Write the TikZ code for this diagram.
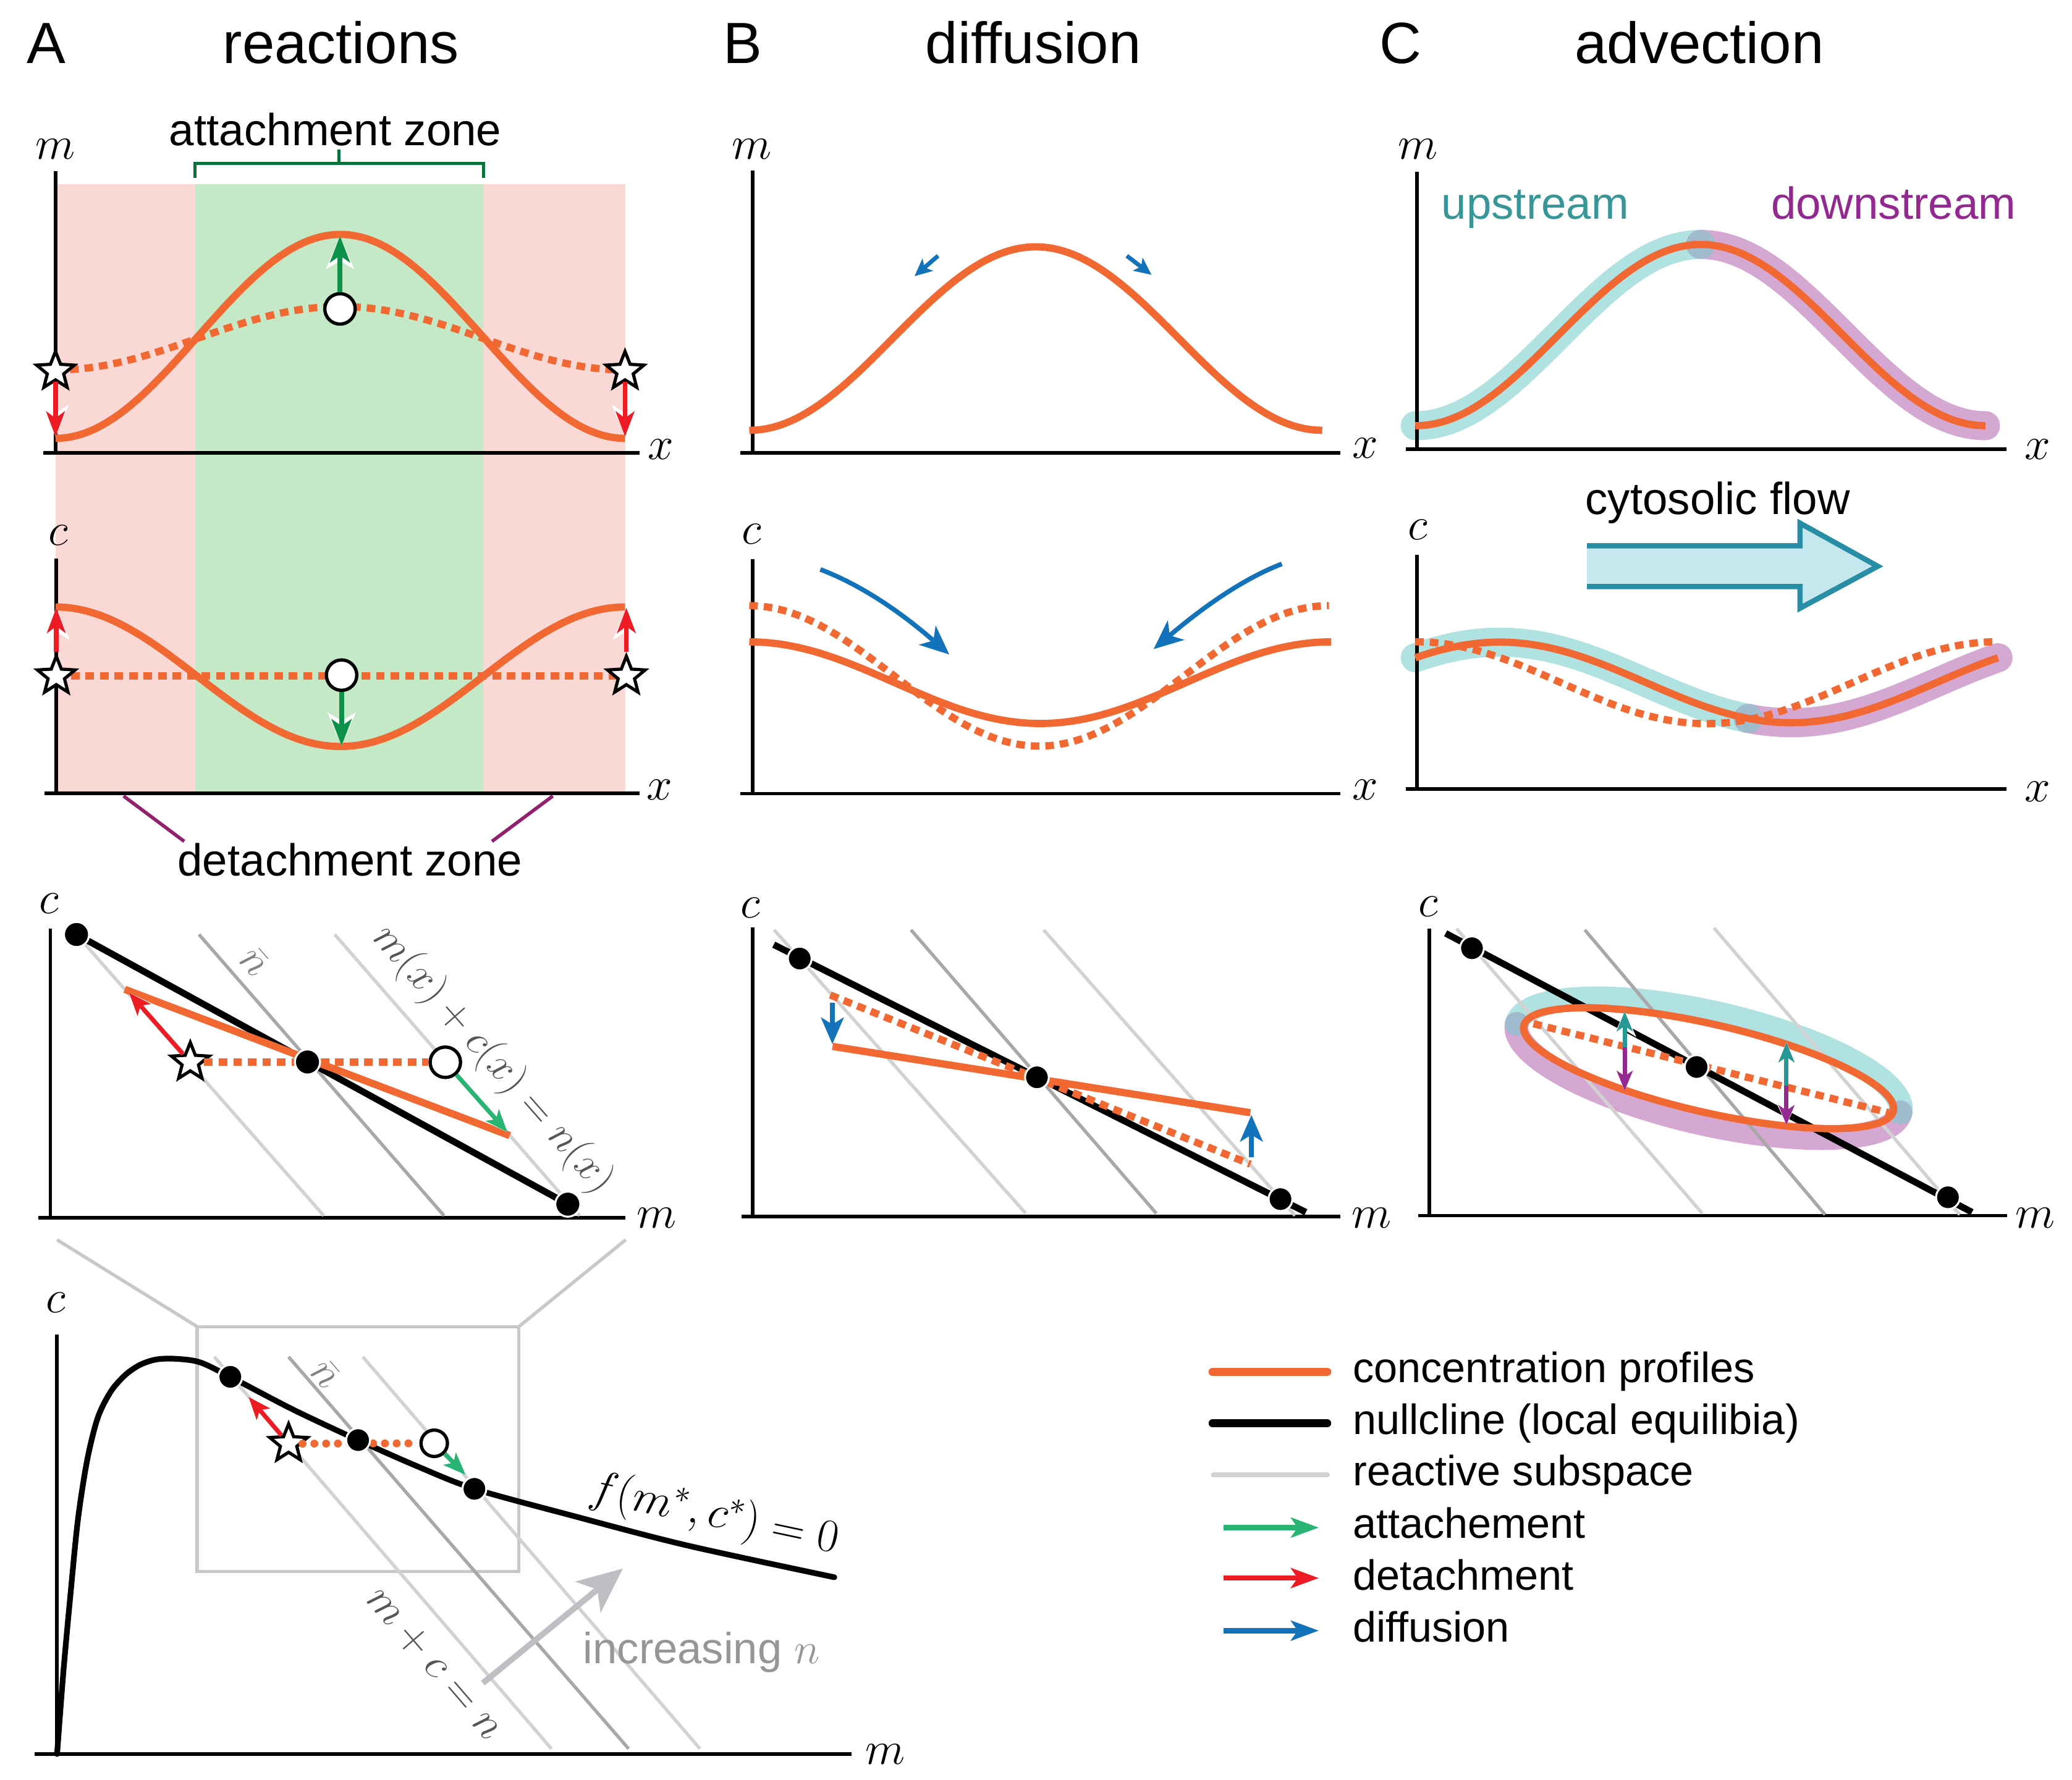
\RequirePackage{fix-cm}
\documentclass[tikz,border=0pt]{standalone}
\usepackage[no-math]{fontspec}
\setmainfont{Liberation Sans}
\usetikzlibrary{arrows.meta,shapes.geometric}
\definecolor{cor}{RGB}{242,104,50}
\definecolor{pinkbg}{RGB}{250,216,214}
\definecolor{greenbg}{RGB}{197,233,199}
\definecolor{dkgreen}{RGB}{12,146,72}
\definecolor{ltgreen}{RGB}{42,180,115}
\definecolor{redA}{RGB}{237,28,36}
\definecolor{blueA}{RGB}{18,114,186}
\definecolor{brgreen}{RGB}{10,112,60}
\definecolor{detpurple}{RGB}{146,32,110}
\definecolor{grayL}{RGB}{210,210,210}
\definecolor{grayD}{RGB}{168,168,170}
\definecolor{boxgray}{RGB}{200,200,200}
\definecolor{arrgray}{RGB}{190,191,194}
\definecolor{txtgray}{RGB}{150,150,152}
\definecolor{halot}{RGB}{175,226,224}
\definecolor{halop}{RGB}{212,168,210}
\definecolor{haloj}{RGB}{160,186,206}
\definecolor{tealtxt}{RGB}{55,150,152}
\definecolor{purtxt}{RGB}{148,40,145}
\definecolor{flowline}{RGB}{40,142,165}
\definecolor{flowfill}{RGB}{197,232,238}
\definecolor{tealarr}{RGB}{40,152,150}
\definecolor{purarr}{RGB}{150,40,145}
\definecolor{labgray}{RGB}{85,85,85}
\definecolor{nbgray}{RGB}{130,130,132}
\begin{document}
\begin{tikzpicture}[x=1pt,y=-1pt,
  ax/.style={draw=black, line width=2.7pt},
  prof/.style={draw=cor, line width=5.5pt, line join=round},
  profd/.style={draw=cor, line width=5.5pt, dash pattern=on 6.5pt off 4.5pt},
  profdot/.style={draw=cor, line width=6pt, line cap=round, dash pattern=on 0pt off 8.9pt},
  nullc/.style={draw=black, line width=5pt},
  rsub/.style={draw=grayL, line width=2.5pt},
  rsubd/.style={draw=grayD, line width=2.5pt},
  dotn/.style={circle, fill=black, draw=white, line width=1.5pt, minimum size=19pt, inner sep=0pt},
  opn/.style={circle, fill=white, draw=black, line width=2.5pt, minimum size=23pt, inner sep=0pt},
  strn/.style={star, star points=5, star point ratio=2.3, minimum size=30pt, inner sep=0pt, fill=white, draw=black, line width=2.4pt},
  mlab/.style={font=\fontsize{35}{40}\selectfont},
  ttl/.style={font=\fontsize{44}{50}\selectfont, anchor=base},
  txt/.style={font=\fontsize{34}{40}\selectfont, anchor=base},
  leg/.style={font=\fontsize{32}{38}\selectfont, anchor=base west},
  attA/.style={draw=dkgreen, line width=4pt, -{Stealth[length=20pt,width=15pt,inset=5pt]},
     preaction={draw=white, line width=4pt, -{Stealth[length=25pt,width=21pt,inset=6pt]}}},
  detA/.style={draw=redA, line width=3.5pt, -{Stealth[length=19pt,width=14pt,inset=5pt]},
     preaction={draw=white, line width=3.5pt, -{Stealth[length=24pt,width=20pt,inset=6pt]}}},
  attB/.style={draw=ltgreen, line width=3.3pt, -{Stealth[length=17pt,width=13pt,inset=4pt]},
     preaction={draw=white, line width=3.3pt, -{Stealth[length=21pt,width=18pt,inset=5pt]}}},
  detB/.style={draw=redA, line width=3.3pt, -{Stealth[length=17pt,width=13pt,inset=4pt]},
     preaction={draw=white, line width=3.3pt, -{Stealth[length=21pt,width=18pt,inset=5pt]}}},
  upA/.style={draw=tealarr, line width=3.3pt, -{Stealth[length=15pt,width=12pt,inset=4pt]},
     preaction={draw=white, line width=3.3pt, -{Stealth[length=19pt,width=17pt,inset=5pt]}}},
  dnA/.style={draw=purarr, line width=3.3pt, -{Stealth[length=15pt,width=12pt,inset=4pt]},
     preaction={draw=white, line width=3.3pt, -{Stealth[length=19pt,width=17pt,inset=5pt]}}},
  difA/.style={draw=blueA, line width=3.5pt, -{Stealth[length=22pt,width=19pt,inset=6pt]}},
  difS/.style={draw=blueA, line width=3.2pt, -{Stealth[length=13pt,width=12pt,inset=3pt]}},
  legarr/.style={line width=4pt, -{Stealth[length=21pt,width=15pt,inset=5pt]}}
]
\useasboundingbox (0,0) rectangle (1568,1347);

% ---------- titles ----------
\node[ttl] (tA) at (35,48) {A};
\node[ttl] (tAr) at (258,48) {reactions};
\node[ttl] (tB) at (562,48) {B};
\node[ttl] (tBd) at (782,48) {diffusion};
\node[ttl] (tC) at (1060,48) {C};
\node[ttl] (tCa) at (1286,48) {advection};

% ================= PANEL A =================
\fill[pinkbg] (42,139.5) rectangle (473.4,600.5);
\fill[greenbg] (147.6,139.5) rectangle (365.8,600.5);
\draw[brgreen, line width=2.4pt] (147.6,134.5) -- (147.6,123.8) -- (365.8,123.8) -- (365.8,134.5);
\draw[brgreen, line width=2.4pt] (256.7,123.8) -- (256.7,113);
\node[txt] (az) at (253.8,110) {attachment zone};

% m-profile
\draw[ax] (42,129.3) -- (42,342.9);
\draw[ax] (32.8,342.9) -- (483.9,342.9);
\node[mlab] (Aml) at (42,113) {$m$};
\node[mlab] (Amx) at (500,340) {$x$};
\draw[profd] plot[domain=42:473, samples=100] (\x,{256-24*cos((\x-257.5)/431*360)});
\draw[prof] plot[domain=42:473, samples=100] (\x,{254.6-77.2*cos((\x-257.5)/431*360)});
\node[strn] (As1) at (42,281) {};
\node[strn] (As2) at (473,281) {};
\node[opn] (Ao1) at (257.3,233.8) {};
\coordinate (Am1) at (42,330.5);
\coordinate (Am2) at (473,330.5);
\coordinate (Amt) at (257.3,178.5);
\draw[detA] (As1) -- (Am1);
\draw[detA] (As2) -- (Am2);
\draw[attA] (Ao1) -- (Amt);

% c-profile
\draw[ax] (42.6,422.6) -- (42.6,600.5);
\draw[ax] (33.8,600.5) -- (483.9,600.5);
\node[mlab] (Acl) at (44,405) {$c$};
\node[mlab] (Acx) at (499,598) {$x$};
\draw[profd] (42.6,511.7) -- (474,511.7);
\draw[prof] plot[domain=42:473, samples=100] (\x,{512.2-52.8*cos((\x-42)/431*360)});
\node[strn] (Acs1) at (42.6,511.7) {};
\node[strn] (Acs2) at (474,511.7) {};
\node[opn] (Aco) at (258.5,511) {};
\coordinate (Act1) at (42.6,460);
\coordinate (Act2) at (474,460);
\coordinate (Act3) at (258.5,564.5);
\draw[detA] (Acs1) -- (Act1);
\draw[detA] (Acs2) -- (Act2);
\draw[attA] (Aco) -- (Act3);

\node[txt] (dz) at (264.9,663) {detachment zone};
\draw[detpurple, line width=2.6pt] (93.5,602.5) -- (139.4,636.8);
\draw[detpurple, line width=2.6pt] (418.3,602.5) -- (372.3,636.8);

% phase plot A
\draw[ax] (38.1,703) -- (38.1,921.8);
\draw[ax] (29.1,921.8) -- (473.4,921.8);
\node[mlab] (Apc) at (37,684) {$c$};
\node[mlab] (Apm) at (497,922) {$m$};
\draw[rsub] (57.9,707.3) -- (245,920.1);
\draw[rsubd] (150.6,707.3) -- (336,920.1);
\draw[rsub] (253.3,707.3) -- (438.7,920.1);
\node[rotate=-48.7, font=\fontsize{32}{36}\selectfont, text=nbgray] (nbA) at (192.8,728) {$\bar n$};
\node[rotate=-48.7, font=\fontsize{32}{36}\selectfont, text=labgray, inner sep=0pt] (eqA) at (373,802) {$m(x)+c(x)=n(x)$};
\coordinate (pA1) at (57.9,707.3);
\coordinate (pA2) at (232.7,803.8);
\coordinate (pA3) at (429.7,911.4);
\draw[nullc] (pA1) -- (pA3);
\coordinate (oA1) at (94.4,748.8);
\coordinate (oA2) at (385.7,859.5);
\draw[prof] (oA1) -- (oA2);
\node[strn] (Aps) at (144,804) {};
\node[opn] (Apo) at (337,804) {};
\draw[profd] (Aps) -- (Apo);
\node[dotn] (Apd1) at (pA1) {};
\node[dotn] (Apd2) at (pA2) {};
\node[dotn] (Apd3) at (pA3) {};
\coordinate (Apt1) at (97.7,751.4);
\coordinate (Apt2) at (384,856.9);
\draw[detB] (Aps) -- (Apt1);
\draw[attB] (Apo) -- (Apt2);

% bottom zoom-out plot
\draw[boxgray, line width=2.5pt] (149.2,1004.1) rectangle (392.6,1189.3);
\draw[boxgray, line width=2.5pt] (149.2,1004.1) -- (43.2,938.4);
\draw[boxgray, line width=2.5pt] (392.6,1004.1) -- (473.5,938.4);
\draw[ax] (43.2,1010) -- (43.2,1327.6);
\draw[ax] (26,1327.6) -- (644.3,1327.6);
\node[mlab] (Bzc) at (42,986) {$c$};
\node[mlab] (Bzm) at (670,1328) {$m$};
\draw[rsub] (162.2,1027) -- (417.3,1323.6);
\draw[rsubd] (218.4,1027) -- (475.7,1323.6);
\draw[rsub] (274.6,1027) -- (529.7,1323.6);
\draw[black, line width=4.3pt, line cap=round] plot[smooth, tension=0.5] coordinates {(43.2,1327.6) (48,1265) (53.5,1205) (59,1150) (66,1105) (74,1073) (84,1053) (95,1040.5) (106,1033) (118,1029) (132,1028.4) (151,1031) (174.3,1042.1) (222,1067) (271,1090) (315,1109.5) (359,1126.9) (432.4,1147) (519,1169.5) (631.4,1193.8)};
\node[rotate=-49, font=\fontsize{32}{36}\selectfont, text=nbgray] (nbZ) at (246.5,1040.2) {$\bar n$};
\node[rotate=-49.3, font=\fontsize{33}{38}\selectfont, text=labgray] (eqZ) at (328.6,1259.4) {$m+c=n$};
\node[rotate=-12, font=\fontsize{35}{40}\selectfont] (fZ) at (540.6,1147) {$f(m^*,c^*)=0$};
\node[strn] (Zs) at (218.4,1092.7) {};
\node[opn, minimum size=20pt] (Zo) at (328.6,1092.4) {};
\draw[profdot] (Zs) -- (Zo);
\node[dotn, minimum size=18pt] (Zd1) at (174.3,1042.1) {};
\node[dotn, minimum size=18pt] (Zd2) at (271,1090) {};
\node[dotn, minimum size=18pt] (Zd3) at (359,1126.9) {};
\coordinate (Zt1) at (188.1,1057.3);
\coordinate (Zt2) at (352.4,1116.3);
\draw[detB] (Zs) -- (Zt1);
\draw[attB] (Zo) -- (Zt2);
\coordinate (gA) at (365.4,1273.9);
\coordinate (gB) at (471.4,1187.2);
\draw[arrgray, line width=4.5pt, -{Stealth[length=34pt,width=30pt,inset=9pt]}] (gA) -- (gB);
\node[font=\fontsize{33}{38}\selectfont, text=txtgray, anchor=base] (incn) at (530.8,1259) {increasing $n$};

% ================= PANEL B =================
\draw[ax] (569.5,129.1) -- (569.5,342.8);
\draw[ax] (560.3,342.8) -- (1014.2,342.8);
\node[mlab] (Bml) at (569,113) {$m$};
\node[mlab] (Bmx) at (1033,339) {$x$};
\draw[prof] plot[domain=567:1000.6, samples=100] (\x,{256.25-69.45*cos((\x-783.8)/433.5*360)});
\coordinate (bs1) at (709.9,193.6); \coordinate (bs2) at (692.1,209);
\coordinate (bs3) at (852.7,193.6); \coordinate (bs4) at (871.4,208);
\draw[difS] (bs1) -- (bs2);
\draw[difS] (bs3) -- (bs4);

\draw[ax] (569.5,423.4) -- (569.5,600.7);
\draw[ax] (560.3,600.7) -- (1014.2,600.7);
\node[mlab] (Bcl) at (569,404) {$c$};
\node[mlab] (Bcx) at (1033,598) {$x$};
\draw[profd] plot[domain=567:1005.7, samples=100] (\x,{511.55-53.15*cos((\x-567)/438.7*360)});
\draw[prof] plot[domain=567:1007.4, samples=100] (\x,{516.7-30.9*cos((\x-567)/440.4*360)});
\coordinate (bc1) at (620.8,431); \coordinate (bc2) at (718.4,495.4);
\coordinate (bc3) at (970,426.8); \coordinate (bc4) at (873,491.3);
\draw[difA] (bc1) .. controls (655,444) and (686,467) .. (bc2);
\draw[difA] (bc3) .. controls (936,440) and (904,465) .. (bc4);

% phase plot B
\draw[ax] (569.5,702.1) -- (569.5,920.6);
\draw[ax] (561.3,920.6) -- (1014.2,920.6);
\node[mlab] (Bpc) at (568,687) {$c$};
\node[mlab] (Bpm) at (1038,922) {$m$};
\draw[rsub] (585.8,703.8) -- (776.2,918.4);
\draw[rsubd] (689.4,703.8) -- (875,918.4);
\draw[rsub] (789.8,703.8) -- (980,920);
\coordinate (nB1) at (585.5,715);
\coordinate (nB2) at (988.2,917.5);
\draw[nullc] (nB1) -- (nB2);
\draw[profd] (628.3,753.1) -- (946.2,881.1);
\draw[prof] (630,792) -- (946.2,842.2);
\node[dotn, minimum size=18pt] (Bd1) at (605.2,725.5) {};
\node[dotn, minimum size=18pt] (Bd2) at (784.7,815.4) {};
\node[dotn, minimum size=18pt] (Bd3) at (969,907.6) {};
\coordinate (bp1) at (629.9,758.8); \coordinate (bp2) at (629.9,790.3);
\coordinate (bp3) at (947,875.9); \coordinate (bp4) at (947,843.9);
\draw[difA, line width=4pt, -{Stealth[length=20pt,width=17pt,inset=5pt]}] (bp1) -- (bp2);
\draw[difA, line width=4pt, -{Stealth[length=20pt,width=17pt,inset=5pt]}] (bp3) -- (bp4);

% ================= PANEL C =================
% m profile
\draw[halot, line width=22pt, line cap=round] plot[domain=1071:1287, samples=60] (\x,{253.6-68.6*cos((\x-1287)/431*360)});
\draw[halop, line width=22pt, line cap=round] plot[domain=1287:1502.5, samples=60] (\x,{253.6-68.6*cos((\x-1287)/431*360)});
\fill[haloj] (1287,185) circle (11);
\draw[ax] (1072.4,130.2) -- (1072.4,340.1);
\draw[ax] (1064.1,340.1) -- (1518.2,340.1);
\node[mlab] (Cml) at (1073,113) {$m$};
\node[mlab] (Cmx) at (1542,340) {$x$};
\draw[prof] plot[domain=1071:1502.5, samples=100] (\x,{253.6-68.6*cos((\x-1287)/431*360)});
\node[txt, text=tealtxt] (ups) at (1161.7,166) {upstream};
\node[txt, text=purtxt] (dns) at (1432.9,166) {downstream};

% flow arrow
\fill[flowfill] (1200.9,413.1) -- (1362.2,413.1) -- (1362.2,396) -- (1421,428.6) -- (1362.2,460.3) -- (1362.2,444) -- (1200.9,444) -- cycle;
\draw[flowline, line width=4pt, line join=miter] (1200.9,413.1) -- (1362.2,413.1) -- (1362.2,396) -- (1421,428.6) -- (1362.2,460.3) -- (1362.2,444) -- (1200.9,444);
\node[txt] (flow) at (1299.8,389.1) {cytosolic flow};

% c profile
\draw[halot, line width=22pt, line cap=round] plot[domain=1071:1323, samples=60] (\x,{516.5-30.5*cos((\x-1135)/441*360)});
\draw[halop, line width=22pt, line cap=round] plot[domain=1323:1512, samples=60] (\x,{516.5-30.5*cos((\x-1135)/441*360)});
\fill[haloj] (1323,543.8) circle (11);
\draw[ax] (1072.4,420) -- (1072.4,597.3);
\draw[ax] (1064.1,597.3) -- (1518.2,597.3);
\node[mlab] (Ccl) at (1073,401) {$c$};
\node[mlab] (Ccx) at (1542,599) {$x$};
\draw[profd] plot[domain=1071:1512, samples=100] (\x,{516.7-31*cos((\x-1071)/441*360)});
\draw[prof] plot[domain=1071:1512, samples=100] (\x,{516.5-30.5*cos((\x-1135)/441*360)});

% phase plot C
\draw[ax] (1081.7,703) -- (1081.7,920.1);
\draw[ax] (1073.4,920.1) -- (1518.9,920.1);
\node[mlab] (Cpc) at (1081,686) {$c$};
\node[mlab] (Cpm) at (1540,922) {$m$};
\draw[halot, line width=18pt, line cap=round] plot[domain=180:360, samples=61, variable=\u] ({1293+149*cos(\u)*cos(13)-42*sin(\u)*sin(13)},{808.5+149*cos(\u)*sin(13)+42*sin(\u)*cos(13)});
\draw[halop, line width=18pt, line cap=round] plot[domain=0:180, samples=61, variable=\u] ({1293+149*cos(\u)*cos(13)-42*sin(\u)*sin(13)},{808.5+149*cos(\u)*sin(13)+42*sin(\u)*cos(13)});
\fill[haloj] (1438.2,842) circle (9);
\fill[haloj] (1147.8,775) circle (9);
\draw[rsub] (1102.3,703) -- (1288.2,918.4);
\draw[rsubd] (1199.3,703.8) -- (1381.1,919.3);
\draw[rsub] (1297.1,702.4) -- (1483,919.3);
\coordinate (nC1) at (1094,706.4);
\coordinate (nC2) at (1492.3,917.5);
\draw[nullc] (nC1) -- (nC2);
\draw[profd] (1160.4,774.8) -- (1429.3,842.2);
\draw[prof] plot[domain=0:360, samples=121, variable=\u] ({1293+143.5*cos(\u)*cos(13)-33.3*sin(\u)*sin(13)},{808.5+143.5*cos(\u)*sin(13)+33.3*sin(\u)*cos(13)}) -- cycle;
\node[dotn, minimum size=18pt] (Cd1) at (1113.9,717.7) {};
\node[dotn, minimum size=18pt] (Cd2) at (1283.9,807.6) {};
\node[dotn, minimum size=18pt] (Cd3) at (1474.1,906.2) {};
\coordinate (cs1) at (1229.5,792.5); \coordinate (ct1) at (1229.5,765.5); \coordinate (cb1) at (1229.5,825.5);
\coordinate (cs2) at (1351.9,821.5); \coordinate (ct2) at (1351.9,789); \coordinate (cb2) at (1351.9,851.5);
\draw[upA] (cs1) -- (ct1);
\draw[dnA] (cs1) -- (cb1);
\draw[upA] (cs2) -- (ct2);
\draw[dnA] (cs2) -- (cb2);

% ================= LEGEND =================
\coordinate (l1a) at (917.6,1038.3); \coordinate (l1b) at (1004.4,1038.3);
\coordinate (l2a) at (917.6,1077.3); \coordinate (l2b) at (1004.4,1077.3);
\coordinate (l3a) at (918,1116.3); \coordinate (l3b) at (1004.6,1116.3);
\coordinate (l4a) at (925.8,1156.2); \coordinate (l4b) at (998,1156.2);
\coordinate (l5a) at (925.8,1194.4); \coordinate (l5b) at (998,1194.4);
\coordinate (l6a) at (925.8,1234.2); \coordinate (l6b) at (998,1234.2);
\draw[cor, line width=6.2pt, line cap=round] (l1a) -- (l1b);
\draw[black, line width=6pt, line cap=round] (l2a) -- (l2b);
\draw[grayL, line width=3.4pt, line cap=round] (l3a) -- (l3b);
\draw[legarr, ltgreen] (l4a) -- (l4b);
\draw[legarr, redA] (l5a) -- (l5b);
\draw[legarr, blueA] (l6a) -- (l6b);
\node[leg] (lt1) at (1020.3,1046.5) {concentration profiles};
\node[leg] (lt2) at (1020.3,1085.8) {nullcline (local equilibia)};
\node[leg] (lt3) at (1020.3,1124.5) {reactive subspace};
\node[leg] (lt4) at (1020.3,1164) {attachement};
\node[leg] (lt5) at (1020.3,1203.6) {detachment};
\node[leg] (lt6) at (1020.3,1242.8) {diffusion};
\end{tikzpicture}
\end{document}
